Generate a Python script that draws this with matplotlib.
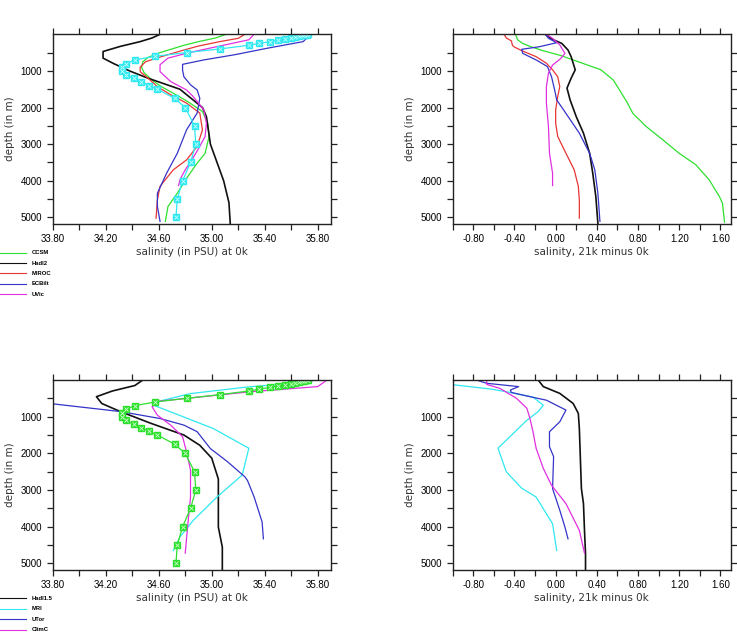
import numpy as np
import matplotlib
matplotlib.use("Agg")
import matplotlib.pyplot as plt
from matplotlib.lines import Line2D

# ---- salinity at 0k (top row models) ----
ccsm_d = [0, 100, 200, 300, 400, 500, 630, 750, 900, 1050, 1250, 1430, 1610, 1840, 2110, 2430, 2790, 3250, 3520, 3880, 4340, 4700, 5110]
ccsm_s = [35.11, 35.03, 34.90, 34.79, 34.70, 34.61, 34.52, 34.48, 34.47, 34.49, 34.55, 34.62, 34.71, 34.82, 34.93, 34.97, 34.98, 34.95, 34.89, 34.82, 34.74, 34.67, 34.65]
hadl2_d = [0, 100, 200, 330, 470, 650, 800, 1000, 1200, 1500, 2000, 2250, 3000, 4000, 4600, 5180]
hadl2_s = [34.61, 34.55, 34.46, 34.31, 34.18, 34.18, 34.26, 34.38, 34.52, 34.76, 34.93, 34.96, 34.99, 35.09, 35.13, 35.14]
miroc_d = [0, 110, 200, 320, 450, 610, 750, 900, 1020, 1200, 1430, 1650, 1880, 2150, 2610, 3060, 3430, 3700, 4150, 4520, 5020]
miroc_s = [35.25, 35.20, 35.06, 34.90, 34.77, 34.62, 34.50, 34.46, 34.46, 34.52, 34.59, 34.69, 34.81, 34.91, 34.93, 34.89, 34.81, 34.71, 34.61, 34.59, 34.58]
ecbilt_d = [0, 60, 200, 380, 560, 700, 820, 980, 1160, 1380, 1520, 1750, 2150, 2610, 3250, 3790, 4340, 4700, 5110]
ecbilt_s = [35.74, 35.73, 35.69, 35.42, 35.17, 34.94, 34.78, 34.78, 34.79, 34.84, 34.89, 34.91, 34.89, 34.81, 34.74, 34.66, 34.59, 34.59, 34.61]
uvic_d = [0, 150, 336, 500, 650, 830, 1020, 1290, 1520, 1700, 2060, 2430, 2790, 3060, 3430, 3700, 3970, 4130]
uvic_s = [35.32, 35.28, 35.04, 34.83, 34.67, 34.61, 34.61, 34.69, 34.81, 34.86, 34.94, 34.96, 34.95, 34.91, 34.85, 34.80, 34.76, 34.75]

# observed profile (squares)
obs_d = [0, 10, 20, 30, 50, 75, 100, 125, 150, 200, 250, 300, 400, 500, 600, 700, 800, 900, 1000,
         1100, 1200, 1300, 1400, 1500, 1750, 2000, 2500, 3000, 3500, 4000, 4500, 5000]
obs_s = [35.73, 35.72, 35.70, 35.68, 35.66, 35.63, 35.60, 35.55, 35.50, 35.44, 35.36, 35.28, 35.06, 34.81, 34.57, 34.42,
         34.35, 34.32, 34.32, 34.35, 34.41, 34.47, 34.53, 34.59, 34.72, 34.80, 34.87, 34.88, 34.84, 34.78, 34.74, 34.73]

# ---- 21k minus 0k (top row models) ----
ccsm_dd = [0, 150, 250, 340, 450, 580, 750, 970, 1250, 1520, 1840, 2160, 2520, 2880, 3250, 3560, 3970, 4430, 4610, 5130]
ccsm_ds = [-0.39, -0.37, -0.32, -0.24, -0.12, 0.05, 0.22, 0.44, 0.56, 0.62, 0.69, 0.75, 0.88, 1.04, 1.20, 1.36, 1.49, 1.59, 1.62, 1.64]
hadl2_dd = [0, 140, 250, 430, 610, 970, 1200, 1470, 1790, 2250, 2700, 3250, 3790, 4430, 5160]
hadl2_ds = [-0.10, -0.03, 0.06, 0.12, 0.15, 0.19, 0.15, 0.11, 0.14, 0.20, 0.27, 0.33, 0.36, 0.39, 0.41]
miroc_dd = [0, 100, 180, 300, 350, 470, 610, 790, 970, 1160, 1430, 1700, 2060, 2430, 2790, 3250, 3700, 4150, 4520, 5020]
miroc_ds = [-0.50, -0.48, -0.43, -0.42, -0.40, -0.31, -0.19, -0.09, -0.03, 0.02, 0.04, 0.02, 0.00, 0.00, 0.02, 0.10, 0.18, 0.22, 0.23, 0.23]
ecbilt_dd = [0, 110, 230, 340, 410, 520, 700, 880, 1160, 1520, 1790, 2160, 2700, 3250, 3700, 4340, 5110]
ecbilt_ds = [-0.10, -0.07, 0.01, -0.16, -0.33, -0.32, -0.19, -0.08, -0.04, -0.01, 0.01, 0.10, 0.23, 0.33, 0.38, 0.41, 0.43]
uvic_dd = [0, 110, 290, 520, 660, 840, 1060, 1430, 1880, 2520, 3250, 3790, 4130]
uvic_ds = [-0.09, -0.03, 0.04, 0.09, 0.05, -0.03, -0.07, -0.09, -0.09, -0.07, -0.06, -0.03, -0.03]

# ---- salinity at 0k (bottom row models) ----
hadl15_d = [0, 150, 300, 455, 640, 860, 1180, 1500, 1780, 2130, 2700, 3370, 4010, 4560, 5190]
hadl15_s = [34.48, 34.42, 34.25, 34.13, 34.17, 34.31, 34.54, 34.79, 34.91, 35.00, 35.05, 35.05, 35.05, 35.08, 35.08]
mri_d = [0, 60, 190, 370, 590, 700, 1320, 1860, 2590, 3190, 3830, 4280, 4650]
mri_s = [35.78, 35.72, 35.27, 34.84, 34.59, 34.57, 35.01, 35.28, 35.23, 35.04, 34.86, 34.76, 34.71]
utor_d = [0, 600, 860, 1050, 1230, 1410, 1870, 2230, 2640, 2740, 3190, 3870, 4330]
utor_s = [33.20, 33.68, 34.31, 34.61, 34.79, 34.89, 34.99, 35.12, 35.25, 35.27, 35.32, 35.38, 35.39]
climc_d = [0, 180, 320, 575, 730, 960, 1230, 1545, 1960, 2460, 2960, 3190, 3920, 4720]
climc_s = [35.87, 35.80, 35.29, 34.61, 34.55, 34.59, 34.69, 34.78, 34.81, 34.84, 34.84, 34.84, 34.82, 34.80]

# ---- 21k minus 0k (bottom row models) ----
hadl15_dd = [0, 180, 365, 640, 910, 1320, 2960, 3370, 4100, 4740, 5190]
hadl15_ds = [-0.17, -0.12, 0.04, 0.17, 0.22, 0.23, 0.25, 0.27, 0.28, 0.29, 0.29]
mri_dd = [0, 250, 340, 465, 690, 860, 1100, 1370, 1860, 2500, 2950, 3190, 3920, 4650]
mri_ds = [-1.40, -0.62, -0.44, -0.22, -0.12, -0.17, -0.28, -0.38, -0.56, -0.48, -0.33, -0.19, -0.03, 0.01]
utor_dd = [0, 90, 180, 275, 340, 455, 550, 820, 1140, 1410, 1820, 2090, 2960, 3550, 4010, 4330]
utor_ds = [-0.77, -0.67, -0.36, -0.44, -0.43, -0.25, -0.09, 0.10, 0.04, -0.06, -0.06, -0.02, -0.03, 0.04, 0.09, 0.12]
climc_dd = [0, 120, 230, 500, 770, 1050, 1410, 1860, 2410, 2870, 3370, 4100, 4720]
climc_ds = [-0.67, -0.67, -0.54, -0.38, -0.28, -0.25, -0.22, -0.19, -0.12, -0.04, 0.10, 0.23, 0.28]

GREEN = '#2ee02e'
BLACK = '#111111'
RED = '#e83535'
BLUE = '#3434c8'
MAGENTA = '#e030e0'
CYAN = '#30e8f0'

W, H = 737, 633
fig = plt.figure(figsize=(W / 100, H / 100), dpi=100)

def px_axes(l, t, r, b):
    return fig.add_axes([l / W, 1 - b / H, (r - l) / W, (b - t) / H])

def style(ax, kind, xlabel):
    ax.set_ylim(5180, 0)
    if kind == 'abs':
        ax.set_xlim(33.8, 35.9)
        major = np.arange(33.8, 35.81, 0.4)
        minor = np.arange(34.0, 35.81, 0.4)
    else:
        ax.set_xlim(-1.0, 1.7)
        major = np.arange(-0.8, 1.61, 0.4)
        minor = np.arange(-1.0, 1.61, 0.4)
    ax.set_xticks(major)
    ax.set_xticklabels([f"{v:.2f}" for v in major])
    ax.set_xticks(minor, minor=True)
    ax.set_yticks([1000, 2000, 3000, 4000, 5000])
    ax.set_yticks([500, 1500, 2500, 3500, 4500], minor=True)
    for which in ('major', 'minor'):
        ax.tick_params(axis='both', which=which, direction='out', length=4.5, width=0.9,
                       top=True, right=True, color='#222222')
    ax.tick_params(axis='both', which='major', labelsize=7, pad=3)
    for lab in ax.get_xticklabels() + ax.get_yticklabels():
        lab.set_fontfamily('Liberation Sans')
    for s in ax.spines.values():
        s.set_linewidth(1.0)
        s.set_color('#222222')
    ax.set_xlabel(xlabel, fontsize=7.5, color='#333333', labelpad=2)
    ax.set_ylabel('depth (in m)', fontsize=7.5, color='#333333', labelpad=4)

lw = 0.9

# top left
ax1 = px_axes(52.7, 34.3, 331, 224)
ax1.plot(ccsm_s, ccsm_d, color=GREEN, lw=lw)
ax1.plot(hadl2_s, hadl2_d, color=BLACK, lw=lw + 0.3)
ax1.plot(miroc_s, miroc_d, color=RED, lw=lw)
ax1.plot(ecbilt_s, ecbilt_d, color=BLUE, lw=lw)
ax1.plot(uvic_s, uvic_d, color=MAGENTA, lw=lw)
ax1.plot(obs_s, obs_d, color=CYAN, lw=lw, marker='s', ms=4.5, mfc=CYAN, mec=CYAN)
ax1.plot(obs_s, obs_d, ls='none', marker='x', ms=2.5, mew=0.6, color='#c8ffff')
style(ax1, 'abs', 'salinity (in PSU) at 0k')

# top right
ax2 = px_axes(452.7, 34.3, 730.7, 224)
ax2.plot(ccsm_ds, ccsm_dd, color=GREEN, lw=lw)
ax2.plot(hadl2_ds, hadl2_dd, color=BLACK, lw=lw + 0.3)
ax2.plot(miroc_ds, miroc_dd, color=RED, lw=lw)
ax2.plot(ecbilt_ds, ecbilt_dd, color=BLUE, lw=lw)
ax2.plot(uvic_ds, uvic_dd, color=MAGENTA, lw=lw)
style(ax2, 'diff', 'salinity, 21k minus 0k')

# bottom left
ax3 = px_axes(52.7, 380, 331, 570)
ax3.plot(hadl15_s, hadl15_d, color=BLACK, lw=lw + 0.3)
ax3.plot(mri_s, mri_d, color=CYAN, lw=lw)
ax3.plot(utor_s, utor_d, color=BLUE, lw=lw)
ax3.plot(climc_s, climc_d, color=MAGENTA, lw=lw)
ax3.plot(obs_s, obs_d, color=GREEN, lw=lw, marker='s', ms=4.5, mfc=GREEN, mec=GREEN)
ax3.plot(obs_s, obs_d, ls='none', marker='x', ms=2.5, mew=0.6, color='#d0ffd0')
style(ax3, 'abs', 'salinity (in PSU) at 0k')

# bottom right
ax4 = px_axes(452.7, 380, 730.7, 570)
ax4.plot(hadl15_ds, hadl15_dd, color=BLACK, lw=lw + 0.3)
ax4.plot(mri_ds, mri_dd, color=CYAN, lw=lw)
ax4.plot(utor_ds, utor_dd, color=BLUE, lw=lw)
ax4.plot(climc_ds, climc_dd, color=MAGENTA, lw=lw)
style(ax4, 'diff', 'salinity, 21k minus 0k')

# legends (drawn below the left panels)
def legend(names, colors, y0):
    for i, (n, c) in enumerate(zip(names, colors)):
        y = 1 - (y0 + i * 10.4) / H
        fig.add_artist(Line2D([0, 26 / W], [y, y], color=c, lw=0.8, transform=fig.transFigure))
        fig.text(32 / W, y, n, fontsize=4.2, fontweight='bold', va='center', ha='left',
                 family='Liberation Sans')

legend(['CCSM', 'Hadl2', 'MIROC', 'ECBilt', 'UVic'],
       [GREEN, BLACK, RED, BLUE, MAGENTA], 252.7)
legend(['Hadl1.5', 'MRI', 'UTor', 'ClimC'],
       [BLACK, CYAN, BLUE, MAGENTA], 598.3)

fig.savefig('out.png', dpi=100)
